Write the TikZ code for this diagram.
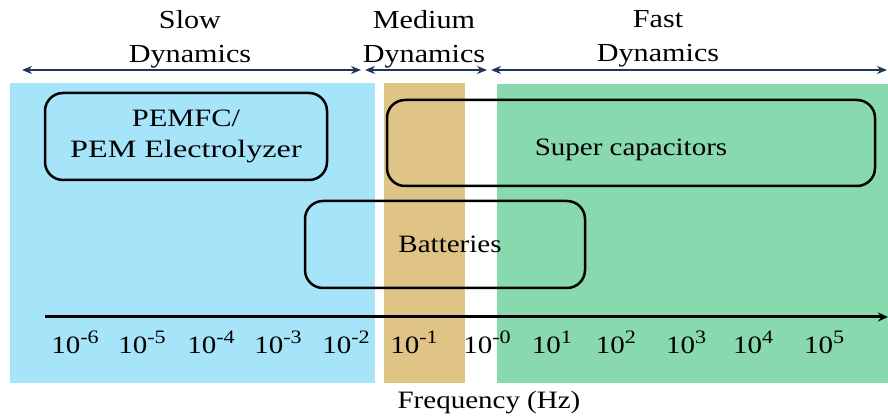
\documentclass[tikz,border=0pt]{standalone}
\usepackage{fontspec}
\setmainfont[FakeStretch=1.16]{Liberation Serif}
\usetikzlibrary{arrows.meta}
\definecolor{slowblue}{RGB}{166,228,250}
\definecolor{medtan}{RGB}{224,196,134}
\definecolor{fastgreen}{RGB}{137,217,174}
\definecolor{navyline}{RGB}{30,55,88}
\newcommand\myexp[1]{\raisebox{10pt}{\fontsize{19}{19}\selectfont #1}}
\begin{document}
\begin{tikzpicture}[x=1pt,y=-1pt,
  font=\fontsize{25}{34}\selectfont,
  devbox/.style={draw=black, line width=2.5pt, rounded corners=18pt, align=center, inner sep=0pt},
  spanarrow/.style={draw=navyline, line width=2.5pt, {Stealth[length=10pt,width=8pt]}-{Stealth[length=10pt,width=8pt]}},
  ticklab/.style={anchor=base, inner sep=0pt},
  head/.style={align=center, inner sep=0pt, font=\fontsize{26}{34}\selectfont}]
\useasboundingbox (0,0) rectangle (888,419);
% zones
\fill[slowblue] (10,83) rectangle (375,383);
\fill[medtan] (384,83) rectangle (465,383);
\fill[fastgreen] (497,84) rectangle (888,383);
% headings
\node[head] (slow) at (190,39) {Slow\\Dynamics};
\node[head] (medium) at (424,39) {Medium\\Dynamics};
\node[head] (fast) at (658,39) {Fast\\Dynamics};
% span arrows
\coordinate (s0) at (22,70);
\coordinate (s1) at (361,70);
\coordinate (m0) at (365,70);
\coordinate (m1) at (487,70);
\coordinate (f0) at (491,70);
\coordinate (f1) at (887,70);
\draw[spanarrow] (s0) -- (s1);
\draw[spanarrow] (m0) -- (m1);
\draw[spanarrow] (f0) -- (f1);
% device boxes
\node[devbox, minimum width=282pt, minimum height=87pt, font=\fontsize{25}{31}\selectfont] (pem) at (186,136.5)
  {\scalebox{1.05}[1]{PEMFC/}\\\scalebox{1.11}[1]{PEM Electrolyzer}};
\node[devbox, minimum width=488pt, minimum height=86pt, text height=31pt, text depth=6pt] (sc) at (631,143) {Super capacitors};
\node[devbox, minimum width=280pt, minimum height=87pt, text height=19pt, text depth=2pt] (bat) at (445,244.5) {\hspace*{10pt}Batteries};
% axis
\coordinate (a0) at (45,317);
\coordinate (a1) at (888,317);
\draw[line width=3pt, -{Stealth[length=10pt,width=9pt]}] (a0) -- (a1);
\node[ticklab] (t1) at (75,353) {10\myexp{-6}};
\node[ticklab] (t2) at (142,353) {10\myexp{-5}};
\node[ticklab] (t3) at (211,353) {10\myexp{-4}};
\node[ticklab] (t4) at (278,353) {10\myexp{-3}};
\node[ticklab] (t5) at (346,353) {10\myexp{-2}};
\node[ticklab] (t6) at (414,353) {10\myexp{-1}};
\node[ticklab] (t7) at (487,353) {10\myexp{-0}};
\node[ticklab] (t8) at (552,353) {10\myexp{1}};
\node[ticklab] (t9) at (616,353) {10\myexp{2}};
\node[ticklab] (t10) at (686,353) {10\myexp{3}};
\node[ticklab] (t11) at (753,353) {10\myexp{4}};
\node[ticklab] (t12) at (824,353) {10\myexp{5}};
\node[ticklab] (freq) at (489,408) {Frequency (Hz)};
\end{tikzpicture}
\end{document}
